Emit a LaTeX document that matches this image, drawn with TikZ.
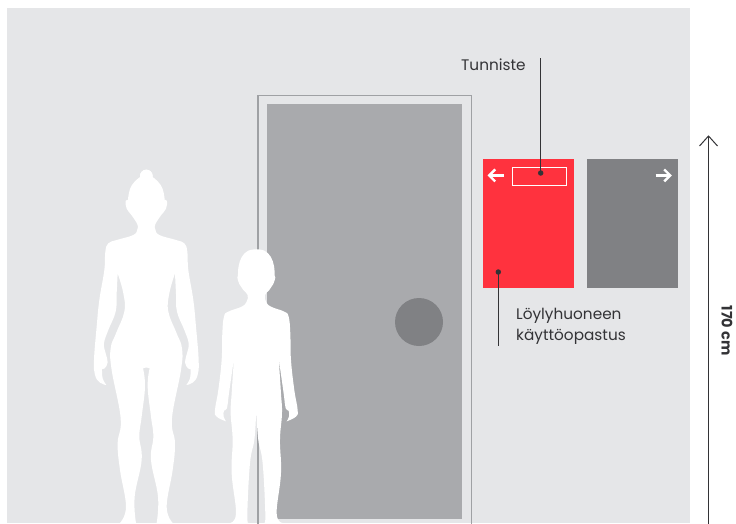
\documentclass[tikz,border=0pt]{standalone}
\usepackage{fontspec}
\setmainfont{Poppins}
\usetikzlibrary{arrows.meta}
\definecolor{wall}{HTML}{E5E6E8}
\definecolor{doorgray}{HTML}{A9AAAD}
\definecolor{framegray}{HTML}{9FA1A4}
\definecolor{knobgray}{HTML}{808184}
\definecolor{signred}{HTML}{FF323E}
\definecolor{ink}{HTML}{333336}
\tikzset{
  label text/.style={font=\fontsize{15.3}{21}\selectfont,text=ink,inner sep=0pt,align=left},
  leader/.style={draw=ink,line width=1.4pt},
  leaderdot/.style={fill=ink,circle,minimum size=5.5pt,inner sep=0pt},
  signarrow/.style={draw=white,line width=2.4pt,line cap=butt,line join=miter},
  sm/.style={smooth,tension=0.7}
}
\newcommand{\womanhalf}{%
  \fill[white] plot[sm] coordinates {(200,42)(176,54)(156,75)(147,98)(144,120)}
  -- plot[sm] coordinates {(144,120)(137,123)(140,146)(155,166)(172,193)(172,208)(160,225)(110,240)(85,250)(76,275)(73,330)(58,420)(50,500)(42,600)(45,645)(60,668)(79,675)}
  -- plot[sm] coordinates {(79,675)(68,655)(66,627)}
  -- plot[sm] coordinates {(66,627)(74,625)(83,607)(77,580)(72,550)(85,510)(107,455)(110,400)(113,340)}
  -- plot[sm] coordinates {(113,340)(130,400)(133,455)(108,520)(92,565)(95,630)(122,775)(113,850)(120,930)(138,1040)(120,1089)}
  -- plot[sm] coordinates {(168,1089)(164,1010)(185,900)(178,830)(185,770)(195,680)(189,625)}
  -- (200,622) -- cycle;
  \fill[white] (199,48) circle (19);
}
\newcommand{\childhalf}{%
  \fill[white] plot[sm] coordinates {(530,268)(505,272)(486,290)(476,318)(474,347)}
  -- plot[sm] coordinates {(474,347)(472,352)(478,372)(490,390)(503,405)(500,425)(485,440)(445,455)(432,470)(427,520)(425,600)(415,690)(405,750)(410,770)(438,784)}
  -- plot[sm] coordinates {(438,784)(431,770)(432,752)(441,745)(447,700)(462,595)}
  -- plot[sm] coordinates {(462,595)(455,700)(452,760)(458,840)(455,940)(468,1060)(450,1089)}
  -- plot[sm] coordinates {(505,1089)(502,1060)(510,910)(523,840)(528,768)}
  -- (530,765) -- cycle;
}
\begin{document}
\begin{tikzpicture}[x=1pt,y=-1pt]
\useasboundingbox (0,0) rectangle (736,523);
\clip (0,0) rectangle (736,523);
% wall
\fill[wall] (7,8) rectangle (690,523);
% door
\draw[framegray,line width=1.3pt] (258,530) -- (258,95.5) -- (471.5,95.5) -- (471.5,530);
\fill[doorgray] (267,104) rectangle (462,519);
\fill[knobgray] (419,322) circle (24);
% signs
\fill[signred] (483,159) rectangle (574,288);
\fill[knobgray] (587,159) rectangle (678,288);
\draw[white,line width=1pt] (512.3,167.3) rectangle (566,185);
\draw[signarrow] (503.6,175.4) -- (490,175.4);
\draw[signarrow] (495.2,169.4) -- (489.2,175.4) -- (495.2,181.4);
\draw[signarrow] (655.7,175.4) -- (669.3,175.4);
\draw[signarrow] (664.2,169.4) -- (670.2,175.4) -- (664.2,181.4);
% people
\begin{scope}[shift={(80,160)},x=0.3333pt,y=-0.3333pt]
  \womanhalf
  \childhalf
\end{scope}
\begin{scope}[shift={(80,160)},x=-0.3333pt,y=-0.3333pt,shift={(-398,0)}]
  \womanhalf
\end{scope}
\begin{scope}[shift={(80,160)},x=-0.3333pt,y=-0.3333pt,shift={(-1058,0)}]
  \childhalf
\end{scope}
% labels and leaders
\node[label text,anchor=base west] (tunniste) at (461,70.7) {Tunniste};
\coordinate (tunnistetop) at (540.7,58);
\node[leaderdot] (tunnistedot) at (540.7,173) {};
\draw[leader] (tunnistetop) -- (tunnistedot.center);
\node[label text,anchor=base west] (loyly) at (516,319) {Löylyhuoneen};
\node[label text,anchor=base west] (kaytto) at (516,340) {käyttöopastus};
\coordinate (loylyend) at (498.3,345.5);
\node[leaderdot] (loylydot) at (498.3,272) {};
\draw[leader] (loylyend) -- (loylydot.center);
% height arrow
\coordinate (heightbase) at (708.5,530);
\coordinate (heighttip) at (708.5,136);
\draw[ink,line width=1pt] (heightbase) -- (heighttip);
\draw[ink,line width=1pt] (699.5,146) -- (heighttip) -- (717.5,146);
\node[font=\fontsize{14.5}{16}\selectfont\bfseries,text=ink,rotate=-90,inner sep=0pt] (height) at (727,330.5) {170 cm};
\end{tikzpicture}
\end{document}
